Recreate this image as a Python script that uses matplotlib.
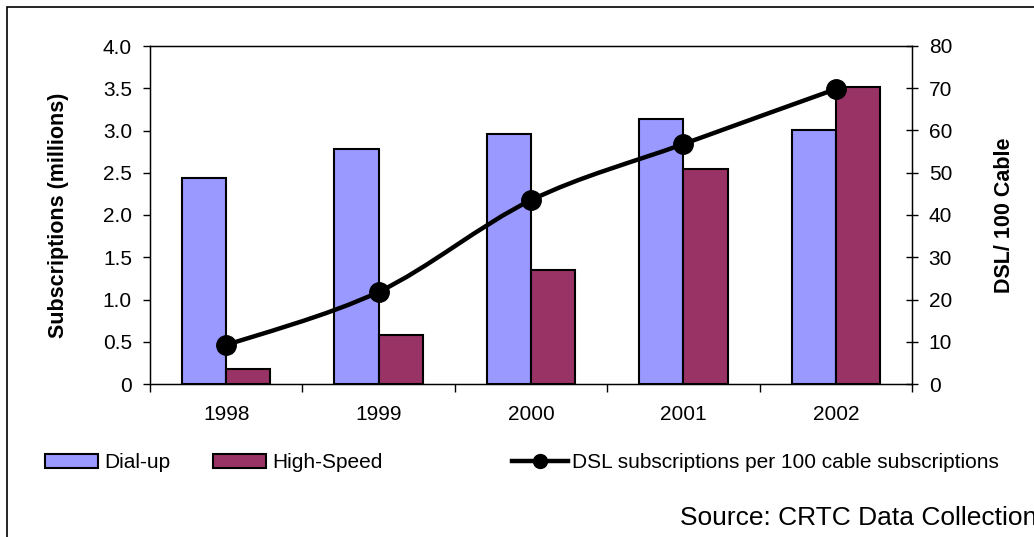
import matplotlib

matplotlib.use("Agg")
import matplotlib.pyplot as plt
import numpy as np
from matplotlib.lines import Line2D
from matplotlib.patches import Patch, PathPatch, Rectangle
from matplotlib.path import Path

plt.rcParams.update({
    "font.family": ["Liberation Sans", "DejaVu Sans"],
    "font.size": 15,
})

years = ["1998", "1999", "2000", "2001", "2002"]
dialup = [2.44, 2.78, 2.96, 3.14, 3.01]
high_speed = [0.18, 0.58, 1.35, 2.55, 3.52]
dsl_per_100 = [9.2, 21.8, 43.5, 56.8, 69.8]
left_ticks = [0, 0.5, 1.0, 1.5, 2.0, 2.5, 3.0, 3.5, 4.0]
left_labels = ["0", "0.5", "1.0", "1.5", "2.0", "2.5", "3.0", "3.5", "4.0"]
right_ticks = [0, 10, 20, 30, 40, 50, 60, 70, 80]

DIAL = "#9999FF"
HIGH = "#993366"

W, H = 1034, 537
fig = plt.figure(figsize=(W / 100, H / 100), dpi=100)
fig.patch.set_facecolor("white")

# outer frame (right/bottom edges fall outside the image)
fig.patches.append(Rectangle((7 / W, -0.2), 1.2, 1.2 - 7 / H, transform=fig.transFigure,
                             facecolor="none", edgecolor="black", linewidth=1.2))

ax = fig.add_axes([150 / W, 1 - 384 / H, (912 - 150) / W, (384 - 46) / H])
x = np.arange(len(years))
bw = 0.29
ax.bar(x - bw / 2, dialup, bw, color=DIAL, edgecolor="black", linewidth=1.5)
ax.bar(x + bw / 2, high_speed, bw, color=HIGH, edgecolor="black", linewidth=1.5)

ax.set_xlim(-0.5, len(years) - 0.5)
ax.set_ylim(0, 4.0)
ax.set_yticks(left_ticks)
ax.set_yticklabels(left_labels)
ax.set_xticks(x)
ax.set_xticklabels(years)
ax.set_xticks(np.arange(-0.5, len(years), 1.0), minor=True)
ax.tick_params(axis="x", which="major", length=0, pad=15)
ax.tick_params(axis="x", which="minor", length=6, direction="out", width=1)
ax.tick_params(axis="y", length=5, direction="out", width=1, pad=8)
ax.set_ylabel("Subscriptions (millions)", fontweight="bold", fontsize=15.5, labelpad=24)
for s in ax.spines.values():
    s.set_linewidth(1)

ax2 = ax.twinx()
ax2.set_ylim(0, 80)
ax2.set_yticks(right_ticks)
ax2.tick_params(axis="y", length=8, direction="inout", width=1, pad=8)
ax2.set_ylabel("DSL/ 100 Cable", fontweight="bold", fontsize=15.5, labelpad=30)

# smoothed line (Catmull-Rom style bezier through the data points)
pts = np.column_stack([x, dsl_per_100]).astype(float)
verts = [pts[0]]
codes = [Path.MOVETO]
n = len(pts)
for i in range(n - 1):
    p0 = pts[max(i - 1, 0)]
    p1 = pts[i]
    p2 = pts[i + 1]
    p3 = pts[min(i + 2, n - 1)]
    c1 = p1 + (p2 - p0) / 6
    c2 = p2 - (p3 - p1) / 6
    verts += [c1, c2, p2]
    codes += [Path.CURVE4] * 3
ax2.add_patch(PathPatch(Path(verts, codes), facecolor="none", edgecolor="black",
                        linewidth=3.2, capstyle="round", joinstyle="round"))
ax2.plot(x, dsl_per_100, "o", color="black", markersize=14, zorder=5)

# legends
ly = 1 - 463 / H
fig.legend(handles=[Patch(facecolor=DIAL, edgecolor="black", linewidth=1.5)], labels=["Dial-up"],
           loc="center left", bbox_to_anchor=(26 / W, ly), frameon=False,
           handlelength=2.55, handleheight=0.63, handletextpad=0.3, fontsize=15)
fig.legend(handles=[Patch(facecolor=HIGH, edgecolor="black", linewidth=1.5)], labels=["High-Speed"],
           loc="center left", bbox_to_anchor=(194 / W, ly), frameon=False,
           handlelength=2.55, handleheight=0.63, handletextpad=0.3, fontsize=15)
fig.legend(handles=[Line2D([], [], color="black", linewidth=3.2, marker="o", markersize=10)],
           labels=["DSL subscriptions per 100 cable subscriptions"],
           loc="center left", bbox_to_anchor=(493 / W, ly), frameon=False,
           handlelength=2.7, handletextpad=0.2, fontsize=15)

fig.text(680 / W, 1 - 518 / H, "Source: CRTC Data Collection", fontsize=19,
         ha="left", va="center")

fig.savefig("out.png", dpi=100, facecolor="white")
